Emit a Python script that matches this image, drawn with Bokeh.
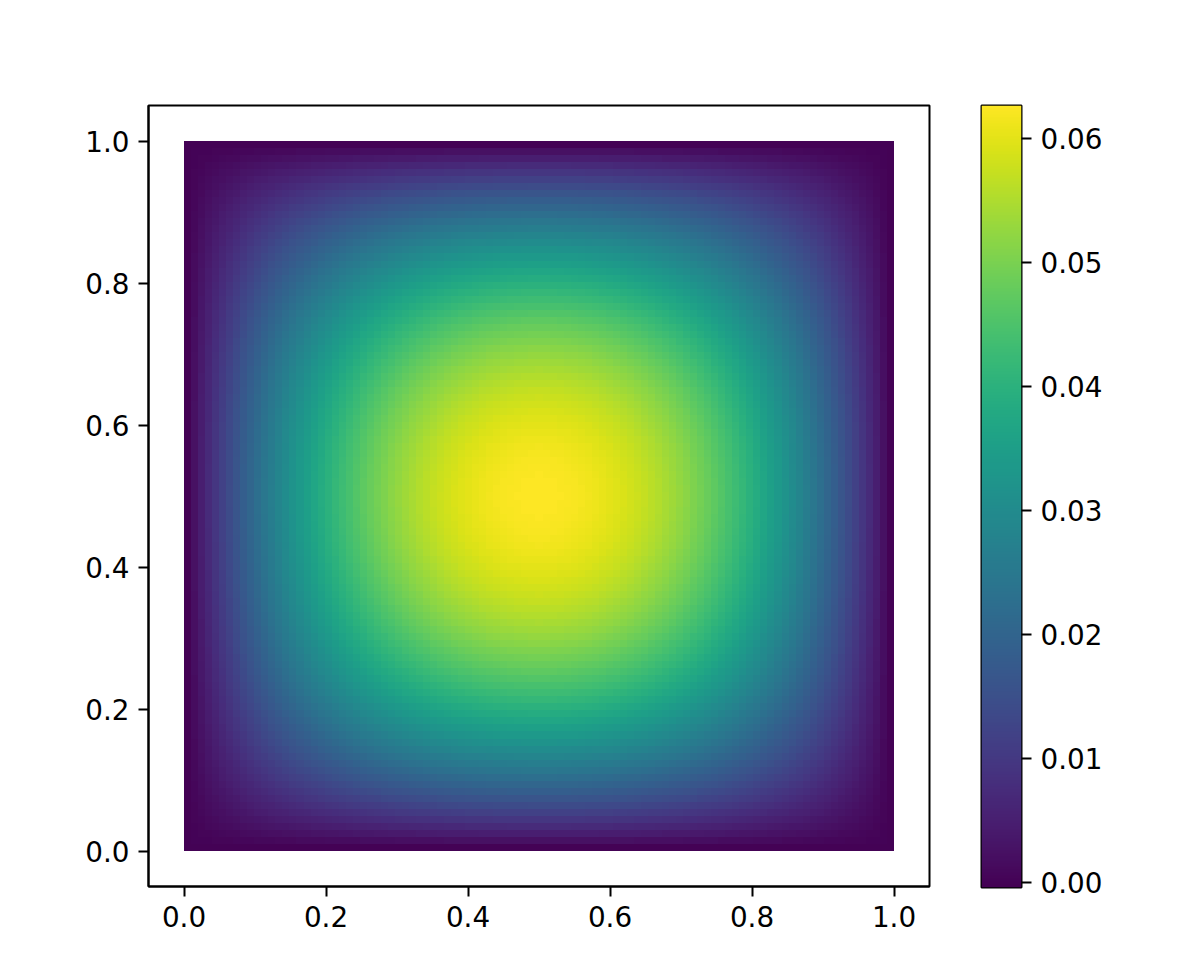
import numpy as np
from bokeh.plotting import figure
from bokeh.layouts import row
from bokeh.models import LinearColorMapper, FixedTicker, PrintfTickFormatter, Range1d, InlineStyleSheet
from bokeh.palettes import Viridis256
from bokeh.embed import file_html
from bokeh.resources import INLINE

# extent of the sampled field (unit square)
x_start, x_end = 0.0, 1.0
y_start, y_end = 0.0, 1.0
# field values read along the centre line y = 0.5, at x = 0.00, 0.01, ..., 1.00
center_profile = [
    0.0, 0.00248, 0.00492, 0.00730, 0.00963, 0.01191, 0.01415, 0.01633, 0.01846, 0.02054,
    0.02257, 0.02455, 0.02648, 0.02837, 0.03020, 0.03198, 0.03371, 0.03539, 0.03702, 0.03860,
    0.04013, 0.04161, 0.04304, 0.04442, 0.04575, 0.04703, 0.04825, 0.04943, 0.05056, 0.05164,
    0.05267, 0.05365, 0.05457, 0.05545, 0.05628, 0.05706, 0.05778, 0.05846, 0.05909, 0.05967,
    0.06019, 0.06067, 0.06109, 0.06147, 0.06180, 0.06207, 0.06230, 0.06247, 0.06260, 0.06267,
    0.06270,
    0.06267, 0.06260, 0.06247, 0.06230, 0.06207, 0.06180, 0.06147, 0.06109, 0.06067, 0.06019,
    0.05967, 0.05909, 0.05846, 0.05778, 0.05706, 0.05628, 0.05545, 0.05457, 0.05365, 0.05267,
    0.05164, 0.05056, 0.04943, 0.04825, 0.04703, 0.04575, 0.04442, 0.04304, 0.04161, 0.04013,
    0.03860, 0.03702, 0.03539, 0.03371, 0.03198, 0.03020, 0.02837, 0.02648, 0.02455, 0.02257,
    0.02054, 0.01846, 0.01633, 0.01415, 0.01191, 0.00963, 0.00730, 0.00492, 0.00248, 0.0,
]
peak_value = 0.0627
color_low = -0.0004
color_high = 0.0627
axis_ticks = [0.0, 0.2, 0.4, 0.6, 0.8, 1.0]
cbar_ticks = [0.0, 0.01, 0.02, 0.03, 0.04, 0.05, 0.06]

prof = np.array(center_profile)
field = np.outer(prof, prof) / peak_value  # rows = y, cols = x (separable field)

mapper = LinearColorMapper(palette=Viridis256, low=color_low, high=color_high)

FONT = "DejaVu Sans"
FS = "27.8px"
smooth_css = InlineStyleSheet(css="image { image-rendering: auto !important; }")

def style_axis(ax, fmt, ticks):
    ax.ticker = FixedTicker(ticks=ticks)
    ax.formatter = PrintfTickFormatter(format=fmt)
    ax.major_label_text_font = FONT
    ax.major_label_text_font_size = FS
    ax.major_label_text_color = "black"
    ax.major_tick_in = 0
    ax.major_tick_out = 10
    ax.major_tick_line_width = 2
    ax.major_tick_line_color = "black"
    ax.minor_tick_line_color = None
    ax.axis_line_width = 2
    ax.axis_line_color = "black"
    ax.major_label_standoff = 9

p = figure(output_backend="svg", toolbar_location=None,
           frame_width=781, frame_height=781,
           min_border_left=148, min_border_top=105, min_border_right=20, min_border_bottom=60,
           x_range=Range1d(-0.05, 1.05), y_range=Range1d(-0.05, 1.05))
p.stylesheets = [smooth_css]
p.image(image=[field], x=x_start, y=y_start,
        dw=x_end - x_start, dh=y_end - y_start, color_mapper=mapper)
p.grid.visible = False
p.outline_line_color = "black"
p.outline_line_width = 2
p.outline_line_alpha = 1
p.background_fill_color = "white"
p.border_fill_color = "white"
style_axis(p.xaxis[0], "%.1f", axis_ticks)
style_axis(p.yaxis[0], "%.1f", axis_ticks)

# colorbar as a second narrow figure
grad = np.linspace(color_low, color_high, 256).reshape(256, 1)
cb = figure(output_backend="svg", toolbar_location=None,
            frame_width=40, frame_height=782,
            min_border_left=32, min_border_top=105, min_border_right=110, min_border_bottom=59,
            x_range=Range1d(0, 1), y_range=Range1d(color_low, color_high),
            y_axis_location="right")
cb.stylesheets = [smooth_css]
cb.image(image=[grad], x=0, y=color_low, dw=1, dh=color_high - color_low, color_mapper=mapper)
cb.grid.visible = False
cb.xaxis.visible = False
cb.outline_line_color = "black"
cb.outline_line_width = 2
cb.outline_line_alpha = 1
cb.border_fill_color = "white"
style_axis(cb.yaxis[0], "%.2f", cbar_ticks)
cb.yaxis[0].axis_line_color = None

layout = row(p, cb, spacing=0)
open("out.html", "w").write(file_html(layout, INLINE))
